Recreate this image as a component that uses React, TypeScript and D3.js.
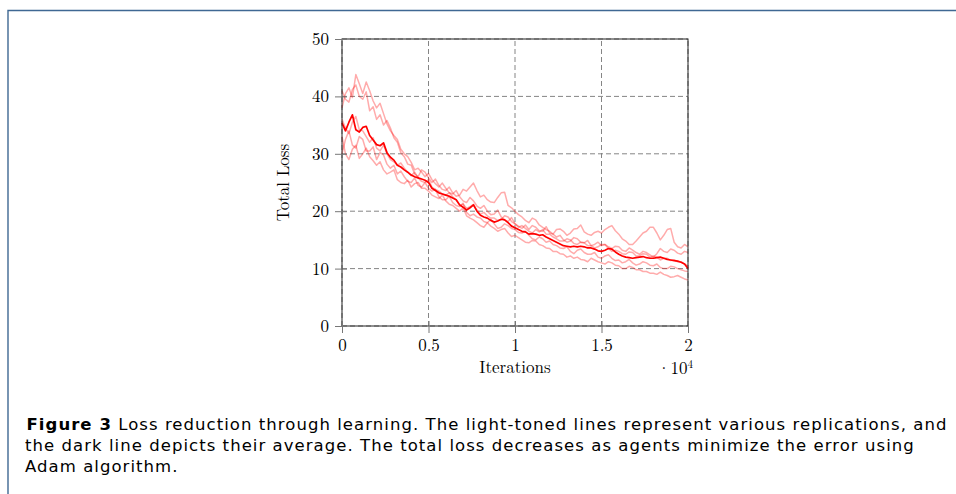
import * as d3 from "d3";
import { useEffect, useRef } from "react";

// iterations sampled along the run
const iterations = [
  0, 200, 400, 600, 800, 1000, 1200, 1400, 1600, 1800, 2000, 2200, 2400, 2600, 2800, 3000, 3200, 3400,
  3600, 3800, 4000, 4200, 4400, 4600, 4800, 5000, 5200, 5400, 5600, 5800, 6000, 6200, 6400, 6600, 6800,
  7000, 7200, 7400, 7600, 7800, 8000, 8200, 8400, 8600, 8800, 9000, 9200, 9400, 9600, 9800, 10000,
  10200, 10400, 10600, 10800, 11000, 11200, 11400, 11600, 11800, 12000, 12200, 12400, 12600, 12800,
  13000, 13200, 13400, 13600, 13800, 14000, 14200, 14400, 14600, 14800, 15000, 15200, 15400, 15600,
  15800, 16000, 16200, 16400, 16600, 16800, 17000, 17200, 17400, 17600, 17800, 18000, 18200, 18400,
  18600, 18800, 19000, 19200, 19400, 19600, 19800, 20000,
];

// replications (light lines)
const rep1 = [
  38.0, 40.5, 41.5, 39.8, 43.8, 42.2, 40.5, 42.5, 41.0, 39.2, 38.0, 38.8, 37.0, 35.2, 34.0, 33.2, 32.5,
  30.8, 30.0, 29.5, 28.5, 27.2, 27.5, 26.8, 26.0, 26.6, 25.5, 24.8, 24.2, 24.9, 24.0, 23.2, 23.0, 23.6,
  22.5, 21.8, 21.5, 22.4, 21.8, 20.9, 20.5, 21.0, 20.0, 19.4, 19.5, 20.2, 19.0, 18.5, 18.2, 18.9, 17.8,
  17.4, 17.0, 17.6, 16.8, 17.5, 17.2, 16.6, 16.5, 17.3, 16.2, 16.0, 16.8, 16.9, 16.5, 15.8, 16.2, 16.9,
  17.0, 17.6, 16.4, 16.0, 15.8, 16.3, 16.5, 16.2, 16.8, 17.2, 17.5, 16.6, 16.0, 15.2, 14.8, 14.2, 14.2,
  14.8, 15.5, 16.2, 16.5, 17.2, 17.2, 16.2, 15.0, 15.8, 16.8, 17.0, 14.6, 13.8, 13.6, 14.2, 13.8,
];
const rep2 = [
  41.0, 39.5, 39.0, 41.2, 42.0, 40.0, 39.5, 40.8, 37.5, 38.2, 36.0, 36.8, 35.0, 35.8, 34.5, 32.8, 32.0,
  30.2, 29.5, 28.2, 28.0, 26.5, 26.0, 27.2, 26.8, 25.8, 25.0, 25.6, 24.5, 23.8, 23.6, 24.2, 23.2, 22.6,
  22.8, 23.8, 23.5, 24.2, 24.9, 23.6, 22.5, 22.8, 22.0, 21.6, 21.5, 22.4, 23.2, 23.3, 21.0, 20.6, 20.0,
  19.4, 19.0, 18.4, 18.0, 18.8, 18.5, 17.6, 17.2, 16.8, 16.5, 16.0, 15.5, 15.8, 15.0, 14.6, 14.8, 15.4,
  15.2, 14.6, 14.5, 14.9, 14.0, 14.2, 14.6, 14.0, 14.2, 13.8, 13.5, 13.9, 13.8, 13.2, 13.0, 13.6, 13.2,
  12.8, 12.5, 13.0, 12.8, 12.4, 12.0, 12.6, 13.5, 13.0, 12.8, 13.4, 13.2, 12.7, 12.5, 13.0, 12.8,
];
const rep3 = [
  30.0, 32.5, 34.0, 31.5, 31.0, 33.0, 32.5, 30.5, 30.5, 31.2, 29.0, 30.2, 29.8, 28.2, 27.5, 28.0, 26.5,
  27.0, 26.0, 25.2, 25.0, 25.8, 24.5, 24.2, 25.0, 24.0, 23.5, 23.8, 22.5, 22.0, 22.0, 22.6, 21.5, 21.0,
  20.8, 21.4, 19.8, 19.2, 19.5, 19.0, 18.8, 18.2, 18.0, 18.6, 17.8, 17.0, 17.2, 17.8, 17.5, 17.0, 16.8,
  16.3, 16.2, 16.5, 15.8, 15.2, 15.0, 15.5, 15.2, 14.6, 14.8, 14.2, 14.0, 13.6, 13.5, 13.8, 13.0, 12.6,
  13.2, 13.4, 12.8, 12.5, 12.5, 12.8, 12.0, 11.8, 12.2, 12.4, 11.8, 11.4, 11.5, 11.0, 11.2, 11.6, 11.0,
  10.6, 10.8, 11.2, 11.0, 10.6, 10.5, 10.8, 10.2, 10.0, 10.0, 10.4, 10.3, 10.0, 9.8, 9.6, 9.5,
];
const rep4 = [
  33.0, 30.0, 29.0, 30.8, 31.5, 29.2, 30.0, 31.0, 29.5, 28.8, 28.0, 28.6, 27.2, 26.5, 26.8, 27.2, 25.5,
  25.0, 24.8, 25.4, 24.2, 24.8, 25.0, 24.0, 24.0, 23.5, 22.8, 22.5, 22.2, 22.8, 21.8, 21.2, 21.0, 20.5,
  20.0, 20.6, 19.2, 18.8, 18.5, 18.0, 17.5, 17.2, 18.0, 17.4, 17.0, 16.5, 16.8, 17.0, 16.2, 15.6, 15.8,
  15.4, 15.0, 14.6, 14.5, 14.9, 14.8, 14.2, 14.0, 13.6, 13.5, 13.0, 13.0, 12.6, 12.5, 12.0, 12.2, 11.8,
  12.0, 11.6, 11.5, 11.2, 11.8, 11.5, 11.2, 11.0, 10.8, 11.2, 11.0, 10.6, 10.5, 10.0, 10.0, 10.4, 10.2,
  9.8, 9.8, 9.5, 9.5, 9.2, 9.2, 9.0, 9.4, 9.0, 8.8, 8.5, 8.6, 8.8, 8.5, 8.2, 8.0,
];
const rep5 = [
  36.0, 34.5, 33.5, 35.5, 36.5, 34.2, 34.0, 33.0, 32.0, 32.8, 31.0, 30.5, 31.5, 30.0, 29.0, 28.6, 28.0,
  28.4, 27.5, 26.8, 26.2, 26.8, 25.8, 25.2, 25.0, 25.5, 24.2, 23.8, 23.5, 23.0, 22.8, 23.2, 22.5, 22.0,
  21.0, 21.2, 20.5, 20.8, 21.2, 20.2, 19.5, 19.8, 19.2, 18.8, 18.8, 18.4, 18.5, 19.2, 19.0, 18.2, 17.8,
  17.2, 17.5, 17.0, 16.5, 16.2, 16.8, 16.4, 16.8, 16.0, 16.0, 15.5, 15.2, 14.8, 14.8, 15.2, 15.0, 14.4,
  14.2, 14.6, 14.5, 14.0, 14.0, 13.6, 13.8, 14.2, 14.2, 13.5, 13.0, 13.2, 13.0, 12.6, 12.5, 12.9, 12.8,
  12.2, 12.2, 12.6, 12.5, 12.0, 12.2, 12.0, 11.5, 11.8, 11.8, 11.4, 11.5, 11.2, 11.2, 10.8, 10.5,
];

// average (dark line)
const average = [
  35.4, 34.0, 35.5, 36.8, 34.2, 33.8, 34.6, 34.8, 33.2, 32.4, 31.6, 31.4, 31.9, 30.2, 29.4, 28.9, 28.0,
  27.7, 27.2, 26.8, 26.3, 26.0, 25.8, 25.6, 25.4, 25.0, 24.0, 23.6, 23.2, 23.0, 22.8, 22.6, 22.3, 22.0,
  21.1, 20.7, 20.2, 20.6, 21.1, 20.0, 19.3, 19.0, 18.8, 18.4, 18.1, 18.3, 18.6, 18.5, 18.0, 17.4, 17.1,
  16.8, 16.5, 16.4, 16.0, 16.1, 16.0, 15.8, 15.9, 15.5, 15.2, 14.9, 14.6, 14.3, 14.0, 13.9, 13.8, 13.9,
  13.8, 13.9, 13.8, 13.6, 13.6, 13.4, 13.1, 13.0, 13.2, 13.5, 13.4, 12.9, 12.5, 12.2, 12.0, 11.9, 11.8,
  11.9, 12.0, 12.1, 11.9, 11.8, 11.8, 11.9, 12.0, 11.8, 11.6, 11.5, 11.4, 11.3, 11.1, 10.8, 10.0,
];

const replications = [rep1, rep2, rep3, rep4, rep5];

const xTicks = [0, 5000, 10000, 15000, 20000];
const xTickLabels = ["0", "0.5", "1", "1.5", "2"];
const yTicks = [0, 10, 20, 30, 40, 50];

const captionBold = "Figure 3";
const captionLines = [
  "Loss reduction through learning. The light-toned lines represent various replications, and",
  "the dark line depicts their average. The total loss decreases as agents minimize the error using",
  "Adam algorithm.",
];

const serif = "'Latin Modern Roman', 'Liberation Serif', serif";
const sans = "'DejaVu Sans', 'Liberation Sans', sans-serif";

export default function App() {
  const svgRef = useRef<SVGSVGElement | null>(null);
  const width = 956;
  const height = 494;

  useEffect(() => {
    const svg = d3.select(svgRef.current);
    svg.selectAll("*").remove();

    const x = d3.scaleLinear().domain([0, 20000]).range([342, 688]);
    const y = d3.scaleLinear().domain([0, 50]).range([326, 39]);

    // frame of the figure box
    svg.append("path")
      .attr("d", `M8,${height} L8,10.5 L${width},10.5`)
      .attr("fill", "none")
      .attr("stroke", "#3f6893")
      .attr("stroke-width", 1.4);

    const g = svg.append("g");

    // grid
    g.append("g")
      .selectAll("line")
      .data(xTicks)
      .join("line")
      .attr("x1", d => x(d))
      .attr("x2", d => x(d))
      .attr("y1", y(0))
      .attr("y2", y(50))
      .attr("stroke", "#858585")
      .attr("stroke-dasharray", "5,3")
      .attr("stroke-width", 1);

    g.append("g")
      .selectAll("line")
      .data(yTicks)
      .join("line")
      .attr("x1", x(0))
      .attr("x2", x(20000))
      .attr("y1", d => y(d))
      .attr("y2", d => y(d))
      .attr("stroke", "#858585")
      .attr("stroke-dasharray", "5,3")
      .attr("stroke-width", 1);

    // lines
    const line = d3.line<number>()
      .x((_, i) => x(iterations[i]))
      .y(d => y(d));

    g.append("g")
      .selectAll("path")
      .data(replications)
      .join("path")
      .attr("d", d => line(d))
      .attr("fill", "none")
      .attr("stroke", "#ff0000")
      .attr("stroke-opacity", 0.33)
      .attr("stroke-width", 1.5)
      .attr("stroke-linejoin", "round");

    g.append("path")
      .attr("d", line(average))
      .attr("fill", "none")
      .attr("stroke", "#ff0000")
      .attr("stroke-width", 1.7)
      .attr("stroke-linejoin", "round");

    // axis box
    g.append("rect")
      .attr("x", x(0))
      .attr("y", y(50))
      .attr("width", x(20000) - x(0))
      .attr("height", y(0) - y(50))
      .attr("fill", "none")
      .attr("stroke", "#222")
      .attr("stroke-width", 1);

    // x axis
    const xAxis = g.append("g")
      .attr("transform", `translate(0,${y(0) - 5})`)
      .call(d3.axisBottom(x).tickValues(xTicks).tickSize(12).tickPadding(6)
        .tickFormat((_, i) => xTickLabels[i]));
    xAxis.select(".domain").remove();
    xAxis.selectAll(".tick line").attr("stroke", "#777");
    xAxis.selectAll(".tick text")
      .attr("fill", "#000")
      .style("font-family", serif)
      .style("font-size", "17px");

    // y axis
    const yAxis = g.append("g")
      .attr("transform", `translate(${x(0) + 5},0)`)
      .call(d3.axisLeft(y).tickValues(yTicks).tickSize(12).tickPadding(6));
    yAxis.select(".domain").remove();
    yAxis.selectAll(".tick line").attr("stroke", "#777");
    yAxis.selectAll(".tick text")
      .attr("fill", "#000")
      .style("font-family", serif)
      .style("font-size", "17px");

    // axis labels
    g.append("text")
      .attr("x", (x(0) + x(20000)) / 2)
      .attr("y", 373)
      .attr("text-anchor", "middle")
      .style("font-family", serif)
      .style("font-size", "17px")
      .text("Iterations");

    const scaleLabel = g.append("text")
      .attr("x", x(20000) + 5)
      .attr("y", 374)
      .attr("text-anchor", "end")
      .style("font-family", serif)
      .style("font-size", "17px");
    scaleLabel.append("tspan").text("·10");
    scaleLabel.append("tspan").attr("dy", -6).style("font-size", "11px").text("4");

    g.append("text")
      .attr("transform", `translate(289,${(y(0) + y(50)) / 2}) rotate(-90)`)
      .attr("text-anchor", "middle")
      .style("font-family", serif)
      .style("font-size", "17px")
      .text("Total Loss");

    // caption: spread the letters so the first line fills the box width
    const cap = svg.append("g").style("font-family", sans).style("font-size", "16.5px").attr("fill", "#000");
    const first = cap.append("text").attr("x", 26.5).attr("y", 430);
    first.append("tspan").style("font-weight", "bold").text(captionBold);
    first.append("tspan").text(" " + captionLines[0]);
    const natural = (first.node() as SVGTextElement).getComputedTextLength();
    const nChars = captionBold.length + 1 + captionLines[0].length;
    const spacing = natural > 0 ? Math.max(0, Math.min(1.2, (921 - natural) / nChars)) : 0;
    cap.style("letter-spacing", `${spacing}px`);

    cap.append("text").attr("x", 25).attr("y", 451).text(captionLines[1]);
    cap.append("text").attr("x", 25).attr("y", 472).text(captionLines[2]);
  }, []);

  return (
    <svg
      ref={svgRef}
      width={width}
      height={height}
      style={{ position: "absolute", left: 0, top: 0, background: "#fff" }}
    />
  );
}
